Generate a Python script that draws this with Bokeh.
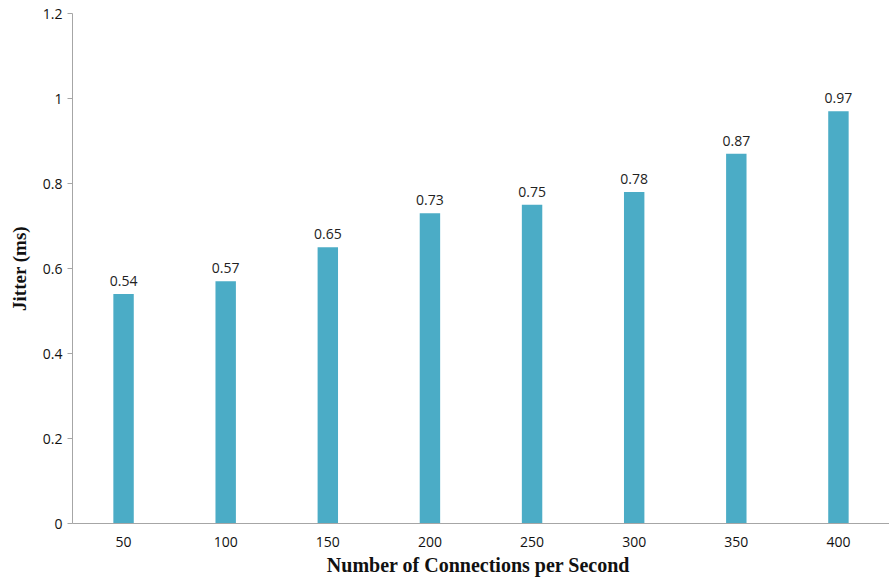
from bokeh.plotting import figure
from bokeh.models import ColumnDataSource, LabelSet, Range1d
from bokeh.core.properties import value
from bokeh.embed import file_html
from bokeh.resources import INLINE

categories = ["50", "100", "150", "200", "250", "300", "350", "400"]
jitter = [0.54, 0.57, 0.65, 0.73, 0.75, 0.78, 0.87, 0.97]
y_ticks = [0, 0.2, 0.4, 0.6, 0.8, 1.0, 1.2]
y_tick_labels = {0: "0", 0.2: "0.2", 0.4: "0.4", 0.6: "0.6", 0.8: "0.8", 1.0: "1", 1.2: "1.2"}

src = ColumnDataSource(dict(x=categories, y=jitter, lbl=[f"{v:.2f}" for v in jitter]))

p = figure(width=889, height=580, x_range=categories, y_range=Range1d(0, 1.2),
           output_backend="svg", toolbar_location=None,
           min_border_left=72, min_border_right=0, min_border_top=13, min_border_bottom=57)
p.outline_line_color = None
p.grid.grid_line_color = None
p.background_fill_color = "white"
p.border_fill_color = "white"

p.vbar(x="x", top="y", width=0.2, source=src, color="#4BACC6", line_color=None)

labels = LabelSet(x="x", y="y", text="lbl", source=src, text_align="center",
                  text_baseline="bottom", y_offset=8, text_font=value("Open Sans"),
                  text_font_size="14px", text_color="#222222")
p.add_layout(labels)

p.yaxis.ticker = y_ticks
p.yaxis.major_label_overrides = y_tick_labels
p.yaxis.minor_tick_line_color = None
p.yaxis.major_tick_out = 5
p.yaxis.major_tick_in = 0
p.yaxis.axis_line_color = "#A6A6A6"
p.yaxis.major_tick_line_color = "#A6A6A6"
p.yaxis.major_label_text_font = "Open Sans"
p.yaxis.major_label_text_font_size = "14px"
p.yaxis.major_label_text_color = "#111111"
p.yaxis.axis_label = "Jitter (ms)"
p.yaxis.axis_label_text_font = "Liberation Serif"
p.yaxis.axis_label_text_font_style = "bold"
p.yaxis.axis_label_text_font_size = "19px"
p.yaxis.axis_label_text_color = "#111111"
p.yaxis.axis_label_standoff = 10

p.xaxis.major_tick_line_color = None
p.xaxis.minor_tick_line_color = None
p.xaxis.axis_line_color = "#A6A6A6"
p.xaxis.major_label_text_font = "Open Sans"
p.xaxis.major_label_text_font_size = "14px"
p.xaxis.major_label_text_color = "#111111"
p.xaxis.major_label_standoff = 7
p.xaxis.axis_label = "Number  of Connections per Second"
p.xaxis.axis_label_text_font = "Liberation Serif"
p.xaxis.axis_label_text_font_style = "bold"
p.xaxis.axis_label_text_font_size = "20px"
p.xaxis.axis_label_text_color = "#111111"
p.xaxis.axis_label_standoff = 4

open("out.html", "w").write(file_html(p, INLINE))
